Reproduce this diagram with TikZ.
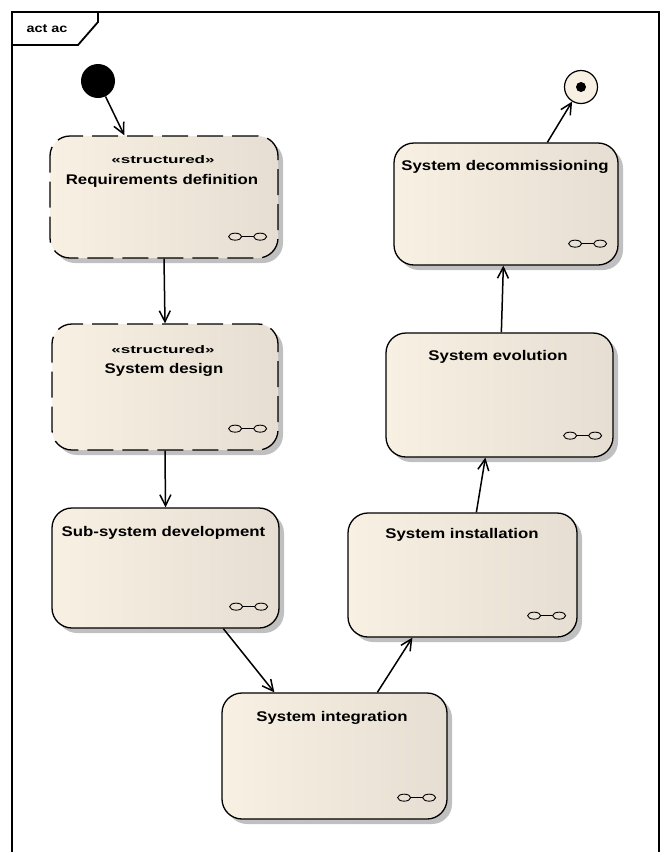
\documentclass[tikz,border=0pt]{standalone}
\usepackage{fontspec}
\setmainfont{Liberation Sans}[FakeStretch=1.2]
\newfontfamily\stereofont{Liberation Sans}[FakeStretch=1.55]
\usetikzlibrary{arrows.meta,shadows,calc}

\definecolor{creamL}{RGB}{248,240,226}
\definecolor{creamR}{RGB}{230,222,210}
\definecolor{shadowgray}{RGB}{192,192,192}

\tikzset{
  act/.style={rectangle, draw=black, line width=1.3pt, rounded corners=20pt,
    left color=creamL, right color=creamR, inner sep=0pt,
    drop shadow={shadow xshift=5pt, shadow yshift=-5pt, fill=shadowgray, opacity=1}},
  structured/.style={act, dash pattern=on 26pt off 9pt},
  title/.style={font=\bfseries\fontsize{14}{16}\selectfont, inner sep=0pt},
  stereo/.style={font=\stereofont\bfseries\fontsize{11}{13}\selectfont, inner sep=0pt},
  flow/.style={line width=1.5pt, -{Straight Barb[length=11pt,width=11pt,line width=1.5pt]}},
  pics/subicon/.style={code={
    \draw[line width=0.9pt] (-12.5,0) ellipse [x radius=6.5pt, y radius=3.5pt];
    \draw[line width=0.9pt] (12.5,0) ellipse [x radius=6.5pt, y radius=3.5pt];
    \draw[line width=0.9pt] (-6,0) -- (6,0);
  }},
}

\begin{document}
\begin{tikzpicture}[x=1pt, y=-1pt]
\useasboundingbox (0,0) rectangle (662,852);

% diagram frame with its name tab
\draw[line width=1.8pt] (12,870) -- (12,12) -- (659,12) -- (659,870);
\draw[line width=1.8pt] (12,45) -- (78,45) -- (98,22) -- (98,12);
\node[font=\bfseries\fontsize{12}{14}\selectfont, inner sep=0pt] (frametitle) at (47,29) {act ac};

% initial and final nodes
\node[circle, fill=black, minimum size=34pt, inner sep=0pt] (init) at (98,81) {};
\node[circle, draw=black, line width=1.2pt, fill=creamL, minimum size=33pt, inner sep=0pt] (final) at (581,87) {};
\node[circle, fill=black, minimum size=10pt, inner sep=0pt] (finaldot) at (581,87) {};

% actions
\node[structured, minimum width=228pt, minimum height=122pt] (req) at (164,197) {};
\node[structured, minimum width=226pt, minimum height=126pt] (design) at (165,387) {};
\node[act, minimum width=227pt, minimum height=120pt] (subsys) at (165.5,568) {};
\node[act, minimum width=225pt, minimum height=126pt] (integ) at (334.5,756) {};
\node[act, minimum width=229pt, minimum height=124pt] (install) at (462.5,575) {};
\node[act, minimum width=227pt, minimum height=124pt] (evol) at (499.5,395) {};
\node[act, minimum width=224pt, minimum height=122pt] (decom) at (506,204) {};

% action texts
\node[stereo] (reqst) at (163,160) {«structured»};
\node[title] (reqt) at (162,181) {Requirements definition};
\node[stereo] (designst) at (163,350) {«structured»};
\node[title] (designt) at (164,370) {System design};
\node[title] (subsyst) at (163.5,533) {Sub-system development};
\node[title] (integt) at (332,718) {System integration};
\node[title] (installt) at (462,535) {System installation};
\node[title] (evolt) at (498,357) {System evolution};
\node[title] (decomt) at (505,167) {System decommissioning};

% sub-activity markers
\foreach \n in {req,design,subsys,integ,install,evol,decom}
  \pic at ($(\n.south east)+(-31,-22)$) {subicon};

% control flows
\draw[flow] (init) -- ($(req.north west)+(75,0)$);
\draw[flow] (req.south) -- (design.north);
\draw[flow] (design.south) -- (subsys.north);
\draw[flow] ($(subsys.south west)+(172,0)$) -- ($(integ.north west)+(53,0)$);
\draw[flow] ($(integ.north west)+(156,0)$) -- ($(install.south west)+(65,0)$);
\draw[flow] ($(install.north west)+(129,0)$) -- ($(evol.south west)+(100,0)$);
\draw[flow] ($(evol.north west)+(116,0)$) -- ($(decom.south west)+(110,0)$);
\draw[flow] ($(decom.north west)+(154,0)$) -- (final);
\end{tikzpicture}
\end{document}
